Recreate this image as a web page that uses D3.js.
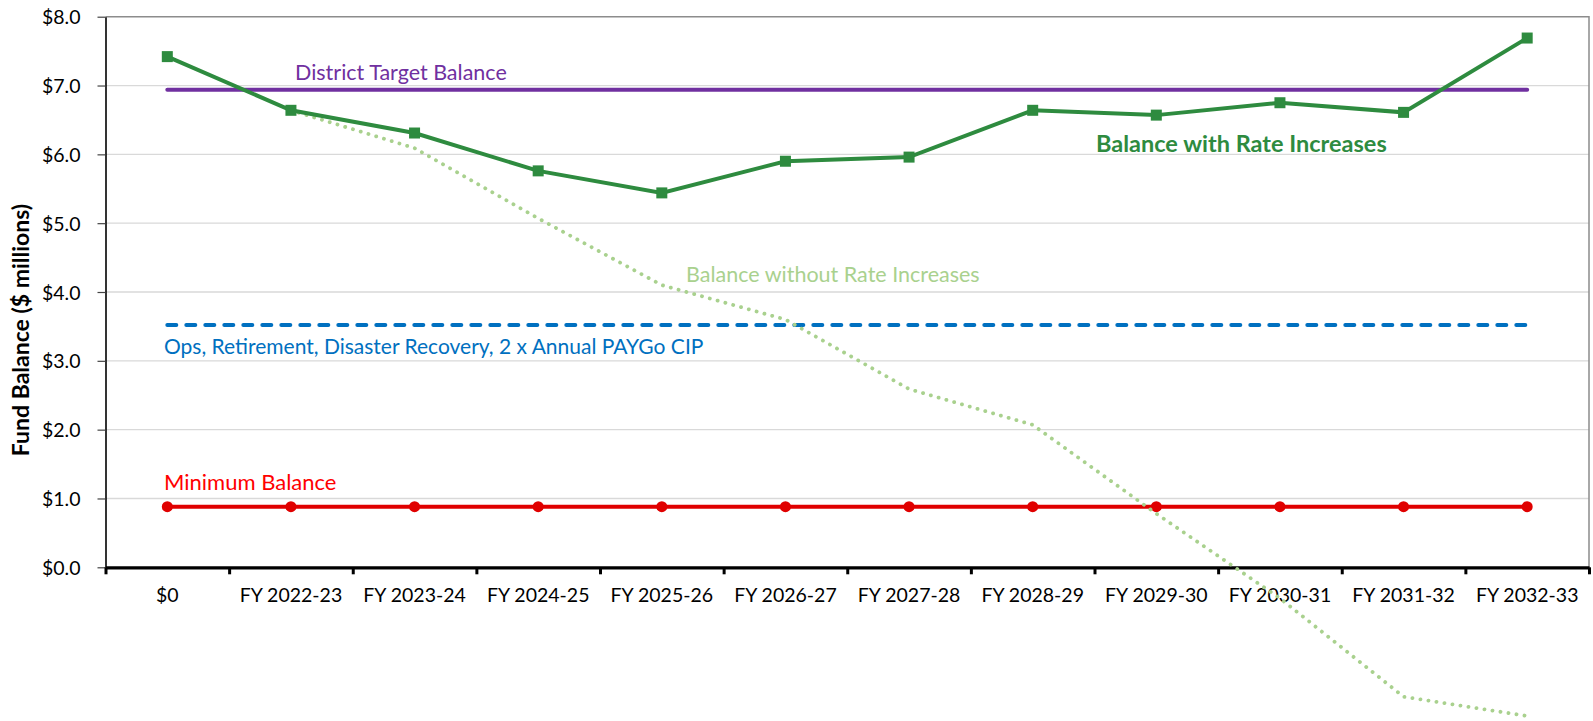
<!DOCTYPE html>
<html>
<head>
<meta charset="utf-8">
<script src="https://cdn.jsdelivr.net/npm/d3@7"></script>
<style>
  html, body { margin: 0; padding: 0; background: #fff; }
  svg { display: block; font-family: Lato, "Open Sans", sans-serif; }
</style>
</head>
<body>
<svg id="chart" width="1593" height="721"></svg>
<script>
// ---- data ----
const categories = ["$0", "FY 2022-23", "FY 2023-24", "FY 2024-25", "FY 2025-26", "FY 2026-27",
  "FY 2027-28", "FY 2028-29", "FY 2029-30", "FY 2030-31", "FY 2031-32", "FY 2032-33"];
const withRateIncreases = [7.42, 6.64, 6.31, 5.76, 5.44, 5.90, 5.96, 6.64, 6.57, 6.75, 6.61, 7.69];
const withoutRateIncreases = [null, 6.64, 6.09, 5.07, 4.10, 3.60, 2.59, 2.07, 0.78, -0.45, -1.88, -2.16];
const targetBalance = [6.94, 6.94, 6.94, 6.94, 6.94, 6.94, 6.94, 6.94, 6.94, 6.94, 6.94, 6.94];
const opsReserve = [3.52, 3.52, 3.52, 3.52, 3.52, 3.52, 3.52, 3.52, 3.52, 3.52, 3.52, 3.52];
const minimumBalance = [0.88, 0.88, 0.88, 0.88, 0.88, 0.88, 0.88, 0.88, 0.88, 0.88, 0.88, 0.88];
const yTicks = [0, 1, 2, 3, 4, 5, 6, 7, 8];
const yTitle = "Fund Balance ($ millions)";

// ---- layout ----
const svg = d3.select("#chart");
const L = 105.5, R = 1589, T = 16.7, B = 567.3;

const x = d3.scaleBand().domain(categories).range([L, R]).padding(0);
const xb = d3.scaleLinear().domain([0, categories.length]).range([L, R]);
const y = d3.scaleLinear().domain([0, 8]).range([B, T]);
const cx = c => x(c) + x.bandwidth() / 2;

// gridlines
svg.append("g").selectAll("line").data(yTicks.filter(v => v > 0 && v < 8)).join("line")
  .attr("x1", L).attr("x2", R).attr("y1", d => y(d)).attr("y2", d => y(d))
  .attr("stroke", "#d9d9d9").attr("stroke-width", 1.3);

// plot border (top, right)
svg.append("path")
  .attr("d", `M${L},${y(8)}H${R}V${B}`)
  .attr("fill", "none").attr("stroke", "#8c8c8c").attr("stroke-width", 1.5);

// y axis
const yAxis = svg.append("g").attr("transform", `translate(${L},0)`)
  .call(d3.axisLeft(y).tickValues(yTicks).tickSize(8).tickSizeOuter(0)
    .tickFormat(d => "$" + d.toFixed(1)));
yAxis.select(".domain").attr("stroke", "#000").attr("stroke-width", 1.6);
yAxis.selectAll(".tick line").attr("stroke", "#444").attr("stroke-width", 1.2);
yAxis.selectAll(".tick text").attr("font-size", 19.5).attr("fill", "#000")
  .attr("font-family", "Lato").attr("x", -25).attr("dy", "0.36em");

// y title
svg.append("text")
  .attr("transform", `translate(29,330) rotate(-90)`)
  .attr("text-anchor", "middle").attr("font-weight", "bold").attr("font-size", 23)
  .attr("fill", "#000").text(yTitle);

// x axis ticks at category boundaries
const xAxis = svg.append("g").attr("transform", `translate(0,${B})`)
  .call(d3.axisBottom(xb).tickValues(d3.range(0, categories.length + 1)).tickSize(7)
    .tickSizeOuter(0).tickFormat(""));
xAxis.select(".domain").attr("stroke", "#000").attr("stroke-width", 3.3);
xAxis.selectAll(".tick line").attr("stroke", "#000").attr("stroke-width", 3);

// x labels
const xLab = svg.append("g").attr("transform", `translate(0,${B})`)
  .call(d3.axisBottom(x).tickSize(0).tickPadding(0));
xLab.select(".domain").remove();
xLab.selectAll(".tick text").attr("font-size", 19.5).attr("fill", "#000")
  .attr("font-family", "Lato").attr("y", 35).attr("dy", 0);

const line = d3.line().defined(d => d.v !== null).x(d => cx(d.c)).y(d => y(d.v));
const zip = arr => categories.map((c, i) => ({ c, v: arr[i] }));

// ops reserve dashed
svg.append("path").datum(zip(opsReserve)).attr("d", line)
  .attr("fill", "none").attr("stroke", "#0070C0").attr("stroke-width", 4)
  .attr("stroke-dasharray", "9,10").attr("stroke-linecap", "round");

// minimum balance
svg.append("path").datum(zip(minimumBalance)).attr("d", line)
  .attr("fill", "none").attr("stroke", "#E00000").attr("stroke-width", 4);
svg.append("g").selectAll("circle").data(zip(minimumBalance)).join("circle")
  .attr("cx", d => cx(d.c)).attr("cy", d => y(d.v)).attr("r", 5.5)
  .attr("fill", "#E00000");

// target balance
svg.append("path").datum(zip(targetBalance)).attr("d", line)
  .attr("fill", "none").attr("stroke", "#7030A0").attr("stroke-width", 4)
  .attr("stroke-linecap", "round");

// without rate increases (dotted)
svg.append("path").datum(zip(withoutRateIncreases)).attr("d", line)
  .attr("fill", "none").attr("stroke", "#A9D18E").attr("stroke-width", 3.8)
  .attr("stroke-dasharray", "0.1,8").attr("stroke-linecap", "round");

// with rate increases
svg.append("path").datum(zip(withRateIncreases)).attr("d", line)
  .attr("fill", "none").attr("stroke", "#2E8B3F").attr("stroke-width", 4);
svg.append("g").selectAll("rect").data(zip(withRateIncreases)).join("rect")
  .attr("x", d => cx(d.c) - 5.5).attr("y", d => y(d.v) - 5.5)
  .attr("width", 11).attr("height", 11).attr("fill", "#2E8B3F");

// annotations
const notes = [
  { t: "District Target Balance", x: 295, y: 80, c: "#7030A0", w: "normal", s: 21.5 },
  { t: "Balance with Rate Increases", x: 1096, y: 152, c: "#2E8B3F", w: "bold", s: 23.5 },
  { t: "Balance without Rate Increases", x: 686, y: 282, c: "#A9D18E", w: "normal", s: 21.5 },
  { t: "Ops, Retirement, Disaster Recovery, 2 x Annual PAYGo CIP", x: 164, y: 354, c: "#0070C0", w: "normal", s: 21 },
  { t: "Minimum Balance", x: 164, y: 490, c: "#FF0000", w: "normal", s: 22 }
];
svg.append("g").selectAll("text").data(notes).join("text")
  .attr("x", d => d.x).attr("y", d => d.y).attr("fill", d => d.c)
  .attr("font-weight", d => d.w).attr("font-size", d => d.s).text(d => d.t);
</script>
</body>
</html>
